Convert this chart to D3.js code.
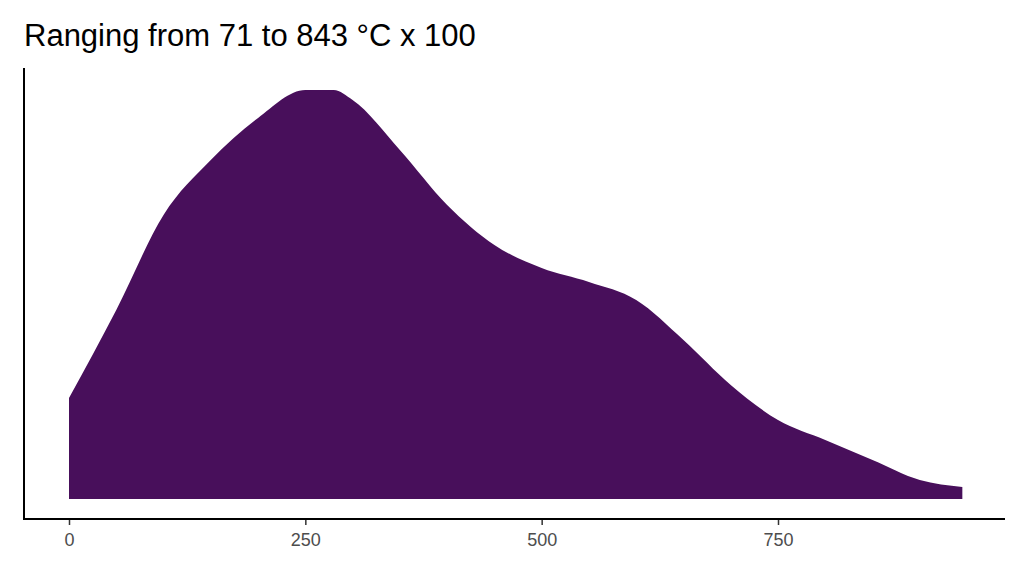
<!DOCTYPE html>
<html><head><meta charset="utf-8">
<script src="https://cdn.jsdelivr.net/npm/d3@7"></script>
<style>body{margin:0;background:#fff}</style>
</head><body>
<script>
var xs = [0, 50, 100, 150, 200, 250, 280, 300, 350, 400, 450, 500, 550, 600, 650, 700, 750, 800, 850, 900, 945];
var dens = [101, 189, 284, 339, 381, 409, 409, 399, 349, 294, 254, 231, 217, 199, 159, 114, 79, 59, 39, 19, 12];
var xTicks = [0, 250, 500, 750];

var svg = d3.select("body").append("svg")
    .attr("width", 1024).attr("height", 576);

var x = d3.scaleLinear().domain([0, 750]).range([69, 778]);
var y = d3.scaleLinear().domain([0, 431]).range([499, 68]);

var pts = xs.map(function(d, i) { return [d, dens[i]]; });

var area = d3.area()
    .x(function(d) { return x(d[0]); })
    .y0(y(0))
    .y1(function(d) { return y(d[1]); })
    .curve(d3.curveMonotoneX);

svg.append("path").datum(pts).attr("d", area).attr("fill", "#480f5b");

svg.append("line").attr("x1", 24).attr("x2", 24).attr("y1", 68).attr("y2", 519)
    .attr("stroke", "#000").attr("stroke-width", 2);

var ax = svg.append("g").attr("transform", "translate(0,519)")
    .call(d3.axisBottom(x).tickValues(xTicks).tickSize(6).tickPadding(8).tickFormat(d3.format("d")));
ax.select(".domain").remove();
ax.append("line").attr("x1", 23).attr("x2", 1005).attr("stroke", "#000").attr("stroke-width", 2);
ax.selectAll(".tick line").attr("stroke", "#333").attr("stroke-width", 1.5);
ax.selectAll(".tick text").attr("fill", "#4d4d4d").style("font-size", "18px")
    .style("font-family", "Liberation Sans, Arial, sans-serif");

svg.append("text").attr("x", 24).attr("y", 46)
    .style("font-family", "Liberation Sans, Arial, sans-serif").style("font-size", "31px")
    .text("Ranging from 71 to 843 °C x 100");
</script>
</body></html>
